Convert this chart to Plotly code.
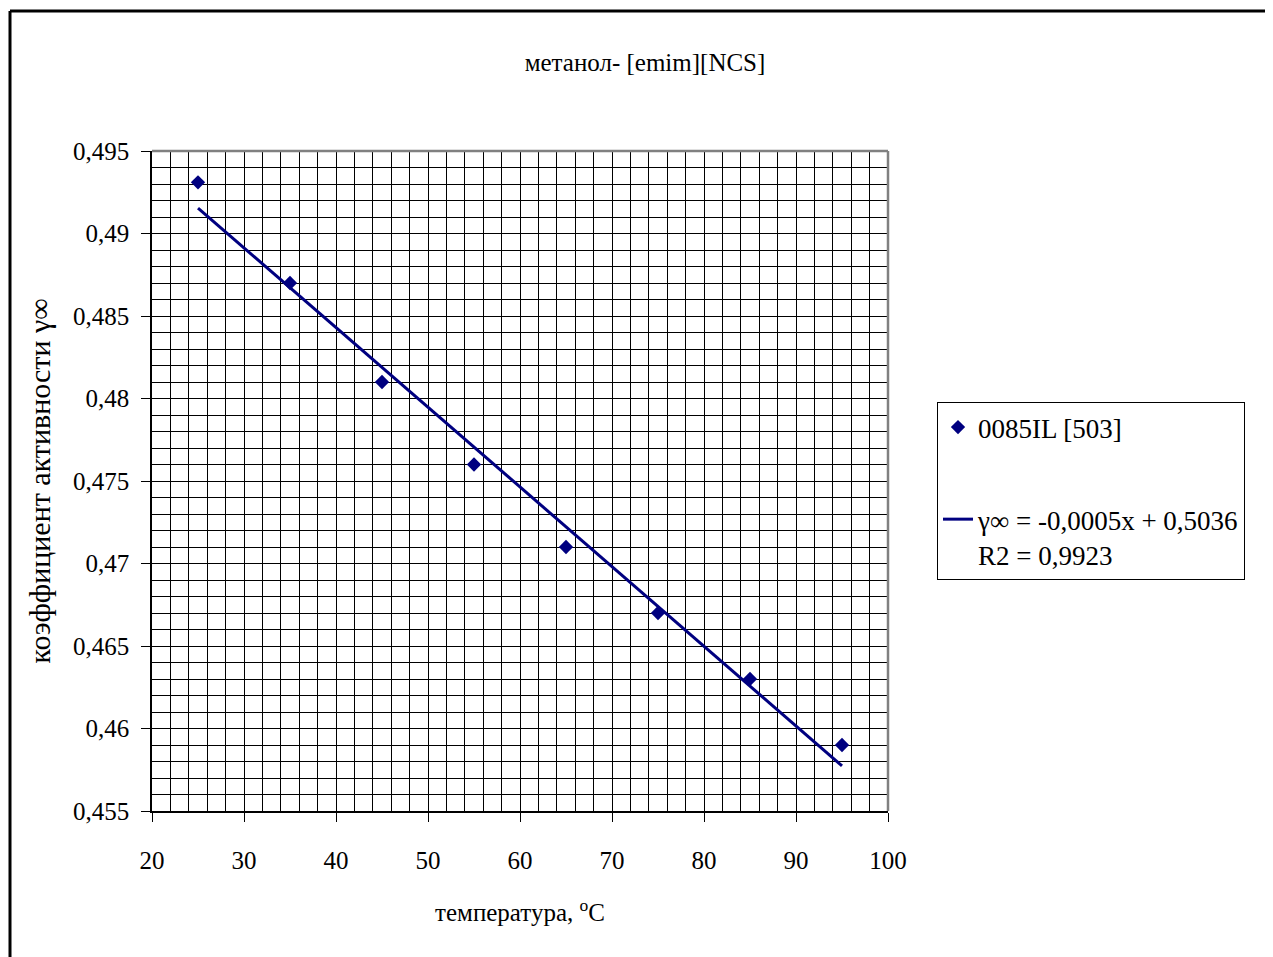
import numpy as np
import plotly.graph_objects as go

# ---- data ----
temperature = [25, 35, 45, 55, 65, 75, 85, 95]
gamma_inf = [0.4931, 0.4870, 0.4810, 0.4760, 0.4710, 0.4670, 0.4630, 0.4590]
series_name = "0085IL [503]"
trend_name = "γ∞ = -0,0005x + 0,5036<br>R2 = 0,9923"
title_text = "метанол- [emim][NCS]"
x_title = "температура, <sup>o</sup>C"
y_title = "коэффициент активности γ∞"

# linear trend line fitted to the data (Excel-style linear trendline)
slope, intercept = np.polyfit(temperature, gamma_inf, 1)
trend_x = [temperature[0], temperature[-1]]
trend_y = [slope * t + intercept for t in trend_x]

NAVY = "#000080"
FONT = "Liberation Serif"

# the page body adds an 8px margin, so the figure is drawn 8px smaller
OFF = 8
W, H = 1273 - OFF, 957 - OFF
L, R, T, B = 152 - OFF, 1273 - 888, 151 - OFF, 957 - 811
pw, ph = W - L - R, H - T - B


def px_x(p):  # reference screen x -> paper x
    return (p - OFF - L) / pw


def px_y(p):  # reference screen y -> paper y
    return (H - B - (p - OFF)) / ph


fig = go.Figure()
fig.add_trace(go.Scatter(
    x=temperature, y=gamma_inf, mode="markers", name=series_name,
    marker=dict(symbol="diamond", size=11, color=NAVY),
    legendgroup="a",
))
fig.add_trace(go.Scatter(
    x=trend_x, y=trend_y, mode="lines", name=trend_name,
    line=dict(color=NAVY, width=3),
    legendgroup="b",
))

fig.update_layout(
    width=W, height=H,
    margin=dict(l=L, r=R, t=T, b=B, autoexpand=False),
    paper_bgcolor="white", plot_bgcolor="white",
    separators=", ",
    font=dict(family=FONT, size=25, color="black"),
    title=dict(text=title_text, x=(645 - OFF) / W, xref="container", xanchor="center",
               y=1 - (62 - OFF) / H, yref="container", yanchor="middle",
               font=dict(family=FONT, size=25, color="black")),
    showlegend=True,
    legend=dict(
        x=px_x(937), y=px_y(402), xanchor="left", yanchor="top",
        bgcolor="white", bordercolor="black", borderwidth=1,
        font=dict(family=FONT, size=27, color="black"),
        traceorder="grouped", tracegroupgap=54, valign="top",
        itemwidth=30,
    ),
)

fig.update_xaxes(
    range=[20, 100], dtick=10, tick0=0,
    showline=True, linecolor="black", linewidth=1.5,
    ticks="outside", ticklen=9, tickcolor="black", tickwidth=1,
    ticklabelstandoff=17,
    showgrid=True, gridcolor="black", gridwidth=1,
    minor=dict(dtick=2, showgrid=True, gridcolor="black", gridwidth=1, ticks=""),
    zeroline=False,
    title=dict(text=x_title, standoff=31, font=dict(family=FONT, size=25)),
    tickfont=dict(family=FONT, size=25),
)
fig.update_yaxes(
    range=[0.455, 0.495], dtick=0.005, tick0=0,
    showline=True, linecolor="black", linewidth=1.5,
    ticks="outside", ticklen=9, tickcolor="black", tickwidth=1,
    ticklabelstandoff=7,
    showgrid=True, gridcolor="black", gridwidth=1,
    minor=dict(dtick=0.001, showgrid=True, gridcolor="black", gridwidth=1, ticks=""),
    zeroline=False,
    title=dict(text=y_title, standoff=14, font=dict(family=FONT, size=30)),
    tickfont=dict(family=FONT, size=25),
)

# gray plot-area border on top and right
fig.add_shape(type="line", xref="paper", yref="paper", x0=0, x1=1, y0=1, y1=1,
              line=dict(color="#808080", width=2.5), layer="above")
fig.add_shape(type="line", xref="paper", yref="paper", x0=1, x1=1, y0=0, y1=1,
              line=dict(color="#808080", width=2.5), layer="above")
# outer chart frame (top and left visible)
fig.add_shape(type="line", xref="paper", yref="paper",
              x0=px_x(10), x1=px_x(1280), y0=px_y(11), y1=px_y(11),
              line=dict(color="black", width=3))
fig.add_shape(type="line", xref="paper", yref="paper",
              x0=px_x(10), x1=px_x(10), y0=px_y(11), y1=px_y(965),
              line=dict(color="black", width=3))

fig.write_html("out.html")
